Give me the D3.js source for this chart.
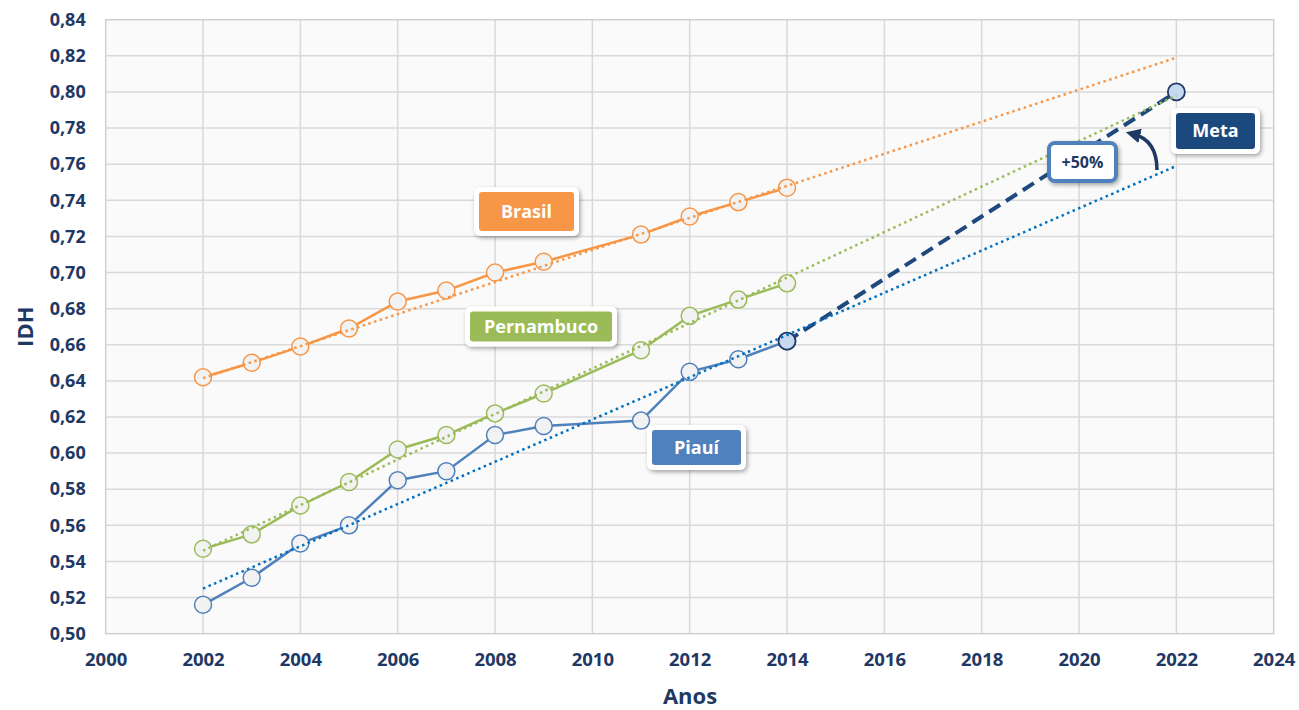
<!DOCTYPE html>
<html>
<head>
<meta charset="utf-8">
<script src="https://cdn.jsdelivr.net/npm/d3@7"></script>
<style>
  body { margin: 0; background: #fff; }
  text { font-family: "Open Sans", "Noto Sans", sans-serif; font-weight: 700; }
</style>
</head>
<body>
<div id="chart"></div>
<script>
/** data **/
var brasilYears = [2002, 2003, 2004, 2005, 2006, 2007, 2008, 2009, 2011, 2012, 2013, 2014];
var brasilIdh = [0.642, 0.650, 0.659, 0.669, 0.684, 0.690, 0.700, 0.706, 0.721, 0.731, 0.739, 0.747];

var pernYears = [2002, 2003, 2004, 2005, 2006, 2007, 2008, 2009, 2011, 2012, 2013, 2014];
var pernIdh = [0.547, 0.555, 0.571, 0.584, 0.602, 0.610, 0.622, 0.633, 0.657, 0.676, 0.685, 0.694];

var piauiYears = [2002, 2003, 2004, 2005, 2006, 2007, 2008, 2009, 2011, 2012, 2013, 2014];
var piauiIdh = [0.516, 0.531, 0.550, 0.560, 0.585, 0.590, 0.610, 0.615, 0.618, 0.645, 0.652, 0.662];

// trend lines (start / end)
var trendYears = [2002, 2022];
var brasilTrend = [0.6415, 0.819];
var pernTrend = [0.546, 0.798];
var piauiTrend = [0.525, 0.759];

// meta: from Piauí 2014 to the 2022 goal
var metaYears = [2014, 2022];
var metaIdh = [0.662, 0.800];

var xTicks = [2000, 2002, 2004, 2006, 2008, 2010, 2012, 2014, 2016, 2018, 2020, 2022, 2024];
var yTicks = [0.50, 0.52, 0.54, 0.56, 0.58, 0.60, 0.62, 0.64, 0.66, 0.68, 0.70, 0.72, 0.74, 0.76, 0.78, 0.80, 0.82, 0.84];

var labelTexts = ["Brasil", "Pernambuco", "Piauí", "Meta", "+50%"];

/** layout **/
var width = 1299, height = 710;
var plotLeft = 105.7, plotRight = 1273.7, plotTop = 19.7, plotBottom = 633.7;
var navy = "#1f3864";

var x = d3.scaleLinear().domain([2000, 2024]).range([plotLeft, plotRight]);
var y = d3.scaleLinear().domain([0.50, 0.84]).range([plotBottom, plotTop]);

var svg = d3.select("#chart").append("svg")
    .attr("width", width)
    .attr("height", height);

var defs = svg.append("defs");
var shadow = defs.append("filter").attr("id", "shadow")
    .attr("x", "-20%").attr("y", "-30%").attr("width", "150%").attr("height", "180%");
shadow.append("feDropShadow")
    .attr("dx", 1.5).attr("dy", 2).attr("stdDeviation", 2.2)
    .attr("flood-color", "#000").attr("flood-opacity", 0.35);

defs.append("marker").attr("id", "arrow")
    .attr("viewBox", "0 0 10 10")
    .attr("refX", 5).attr("refY", 5)
    .attr("markerWidth", 4.2).attr("markerHeight", 4.2)
    .attr("orient", "auto")
    .append("path").attr("d", "M0,0 L10,5 L0,10 z").attr("fill", navy);

// plot background
svg.append("rect")
    .attr("x", plotLeft).attr("y", plotTop)
    .attr("width", plotRight - plotLeft).attr("height", plotBottom - plotTop)
    .attr("fill", "#fafafa");

// grid
svg.append("g").selectAll("line")
    .data(xTicks.slice(1, -1))
    .enter().append("line")
    .attr("x1", function(d) { return x(d); })
    .attr("x2", function(d) { return x(d); })
    .attr("y1", plotTop).attr("y2", plotBottom)
    .attr("stroke", "#d9d9d9").attr("stroke-width", 1.5);

svg.append("g").selectAll("line")
    .data(yTicks.slice(1, -1))
    .enter().append("line")
    .attr("y1", function(d) { return y(d); })
    .attr("y2", function(d) { return y(d); })
    .attr("x1", plotLeft).attr("x2", plotRight)
    .attr("stroke", "#d9d9d9").attr("stroke-width", 1.5);

svg.append("rect")
    .attr("x", plotLeft).attr("y", plotTop)
    .attr("width", plotRight - plotLeft).attr("height", plotBottom - plotTop)
    .attr("fill", "none").attr("stroke", "#d0d0d0").attr("stroke-width", 1.5);

// axes (labels only)
var yAxis = svg.append("g")
    .attr("transform", "translate(" + (plotLeft - 20) + ",0)")
    .call(d3.axisLeft(y).tickValues(yTicks).tickSize(0)
        .tickFormat(function(d) { return d3.format(".2f")(d).replace(".", ","); }));
yAxis.select(".domain").remove();
yAxis.selectAll("text").attr("fill", navy).style("font-size", "18px").attr("x", 0);

var xAxis = svg.append("g")
    .attr("transform", "translate(0," + (plotBottom + 16) + ")")
    .call(d3.axisBottom(x).tickValues(xTicks).tickSize(0).tickFormat(d3.format("d")));
xAxis.select(".domain").remove();
xAxis.selectAll("text").attr("fill", navy).style("font-size", "18.5px");

svg.append("text")
    .attr("transform", "translate(33," + (plotTop + plotBottom) / 2 + ") rotate(-90)")
    .attr("text-anchor", "middle")
    .attr("fill", navy).style("font-size", "22px")
    .text("IDH");

svg.append("text")
    .attr("x", 690).attr("y", 704)
    .attr("text-anchor", "middle")
    .attr("fill", navy).style("font-size", "22px")
    .text("Anos");

/** series **/
function zip(xs, ys) {
    return xs.map(function(d, i) { return [d, ys[i]]; });
}

var line = d3.line()
    .x(function(d) { return x(d[0]); })
    .y(function(d) { return y(d[1]); });

var series = [
    { pts: zip(brasilYears, brasilIdh), color: "#f79646", trend: zip(trendYears, brasilTrend), trendColor: "#f79646" },
    { pts: zip(pernYears, pernIdh), color: "#9bbb59", trend: zip(trendYears, pernTrend), trendColor: "#9bbb59" },
    { pts: zip(piauiYears, piauiIdh), color: "#4f81bd", trend: zip(trendYears, piauiTrend), trendColor: "#0070c0" }
];

// meta dashed line (under markers)
svg.append("path")
    .datum(zip(metaYears, metaIdh))
    .attr("d", line)
    .attr("fill", "none")
    .attr("stroke", "#1f497d")
    .attr("stroke-width", 4)
    .attr("stroke-dasharray", "13,7");

series.forEach(function(s) {
    svg.append("path")
        .datum(s.pts)
        .attr("d", line)
        .attr("fill", "none")
        .attr("stroke", s.color)
        .attr("stroke-width", 2.5);

    svg.append("g").selectAll("circle")
        .data(s.pts)
        .enter().append("circle")
        .attr("cx", function(d) { return x(d[0]); })
        .attr("cy", function(d) { return y(d[1]); })
        .attr("r", 8.5)
        .attr("fill", "#f2f2f2")
        .attr("stroke", s.color)
        .attr("stroke-width", 1.5);
});

// highlighted meta points
svg.append("g").selectAll("circle")
    .data(zip(metaYears, metaIdh))
    .enter().append("circle")
    .attr("cx", function(d) { return x(d[0]); })
    .attr("cy", function(d) { return y(d[1]); })
    .attr("r", 8.5)
    .attr("fill", "#c6d9f1")
    .attr("stroke", navy)
    .attr("stroke-width", 1.8);

// trend lines on top
series.forEach(function(s) {
    svg.append("path")
        .datum(s.trend)
        .attr("d", line)
        .attr("fill", "none")
        .attr("stroke", s.trendColor)
        .attr("stroke-width", 2.5)
        .attr("stroke-dasharray", "2.5,3.5");
});

/** labels **/
function label(text, cx, cy, w, h, fill, textColor) {
    var g = svg.append("g").attr("filter", "url(#shadow)");
    g.append("rect")
        .attr("x", cx - w / 2 - 5).attr("y", cy - h / 2 - 5)
        .attr("width", w + 10).attr("height", h + 10)
        .attr("rx", 6)
        .attr("fill", "#fff");
    g.append("rect")
        .attr("x", cx - w / 2).attr("y", cy - h / 2)
        .attr("width", w).attr("height", h)
        .attr("rx", 3)
        .attr("fill", fill);
    svg.append("text")
        .attr("x", cx).attr("y", cy)
        .attr("dy", "0.35em")
        .attr("text-anchor", "middle")
        .attr("fill", textColor)
        .style("font-size", "18px")
        .text(text);
}

label(labelTexts[0], 526.5, 211.5, 95, 39, "#f79646", "#fff");
label(labelTexts[1], 541, 326.5, 142, 30, "#9bbb59", "#fff");
label(labelTexts[2], 696.5, 447.5, 89, 35, "#4f81bd", "#fff");
label(labelTexts[3], 1215.5, 131, 79, 36, "#1f497d", "#fff");

// +50% box: white with blue border
var pct = svg.append("g").attr("filter", "url(#shadow)");
pct.append("rect")
    .attr("x", 1049).attr("y", 143)
    .attr("width", 67).attr("height", 38)
    .attr("rx", 6)
    .attr("fill", "#fff")
    .attr("stroke", "#4f81bd")
    .attr("stroke-width", 4);
svg.append("text")
    .attr("x", 1082.5).attr("y", 162)
    .attr("dy", "0.35em")
    .attr("text-anchor", "middle")
    .attr("fill", navy)
    .style("font-size", "16px")
    .text(labelTexts[4]);

// curved arrow
svg.append("path")
    .attr("d", "M1157,170 Q1157,140 1133,134")
    .attr("fill", "none")
    .attr("stroke", navy)
    .attr("stroke-width", 3.5)
    .attr("marker-end", "url(#arrow)");
</script>
</body>
</html>
